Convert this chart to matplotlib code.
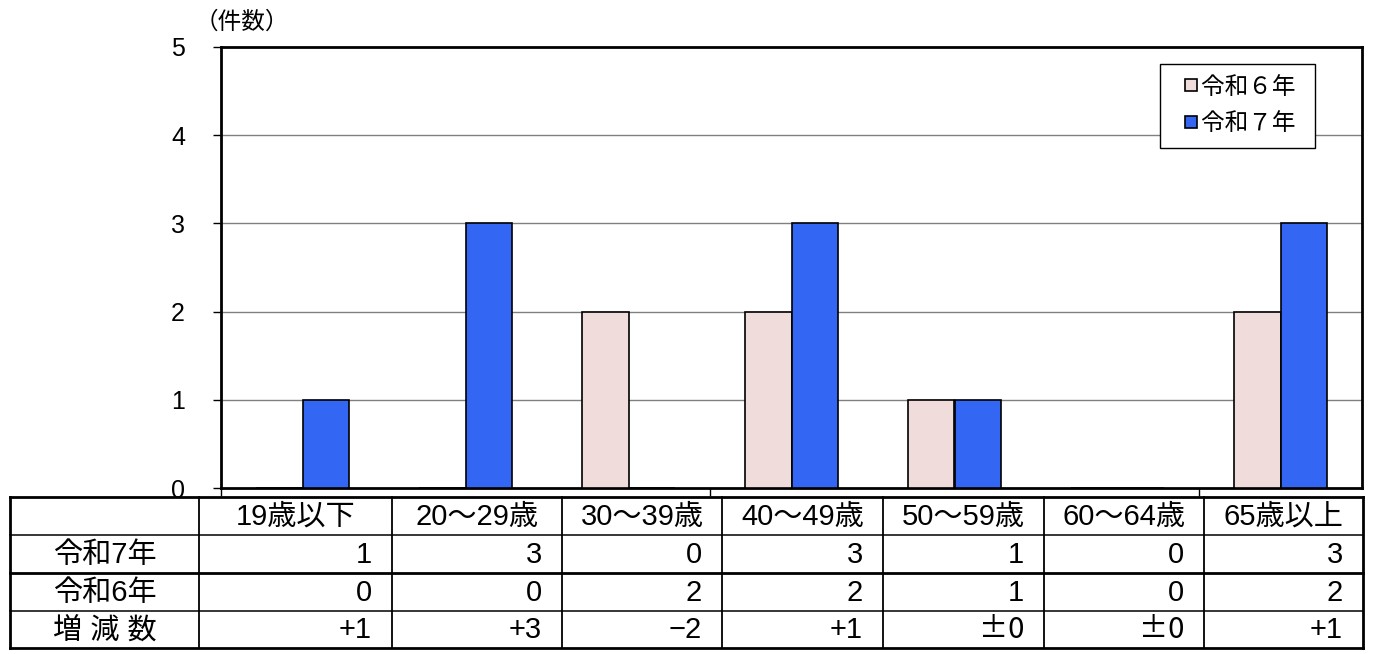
import numpy as np
import matplotlib
matplotlib.use("Agg")
import matplotlib.pyplot as plt
from matplotlib.lines import Line2D

plt.rcParams['font.family'] = ['Liberation Sans', 'Noto Sans CJK JP', 'DejaVu Sans']

# -----------------------------
# Data
# -----------------------------
age_groups = ["19歳以下", "20～29歳", "30～39歳", "40～49歳", "50～59歳", "60～64歳", "65歳以上"]
r7_counts = [1, 3, 0, 3, 1, 0, 3]
r6_counts = [0, 0, 2, 2, 1, 0, 2]
diff_labels = ["+1", "+3", "−2", "+1", "±0", "±0", "+1"]
row_labels = ["令和7年", "令和6年", "増 減 数"]
legend_labels = ["令和６年", "令和７年"]

W, H = 1373, 654
color_r6 = "#F0DCDA"
color_r7 = "#3366F2"
cjk = ['Noto Sans CJK JP', 'DejaVu Sans']

fig = plt.figure(figsize=(W / 100, H / 100), dpi=100)

# -----------------------------
# Bar chart
# -----------------------------
ax = fig.add_axes([221 / W, (H - 488) / H, (1362 - 221) / W, (488 - 47) / H])
x = np.arange(len(age_groups))
bw = 0.288
ax.bar(x - bw / 2, r6_counts, bw, color=color_r6, edgecolor="black", linewidth=1.2, zorder=3)
ax.bar(x + bw / 2, r7_counts, bw, color=color_r7, edgecolor="black", linewidth=1.2, zorder=3)

ax.set_xlim(-0.5, len(age_groups) - 0.5)
ax.set_ylim(0, 5)
ax.set_yticks(range(6))
ax.tick_params(axis="y", direction="out", length=6, width=1, pad=20, labelsize=18)
ax.set_xticks([-0.5, 2.5, 5.5])
ax.set_xticklabels([])
ax.tick_params(axis="x", direction="out", length=6, width=1)
for v in range(1, 5):
    ax.axhline(v, color="#808080", linewidth=1, zorder=1)
for s in ax.spines.values():
    s.set_linewidth(2)
    s.set_color("black")

ax.text(-0.023, 1.055, "（件数）", transform=ax.transAxes, fontsize=17, ha="left", va="center")

# legend with small square markers
handles = [Line2D([], [], linestyle="none", marker="s", markersize=8, markerfacecolor=c,
                  markeredgecolor="black", markeredgewidth=1.2)
           for c in (color_r6, color_r7)]
leg = ax.legend(handles, [l + " " for l in legend_labels], loc="upper left",
                bbox_to_anchor=(0.823, 0.962), borderaxespad=0, fontsize=17,
                handlelength=1.5, handletextpad=-0.3, labelspacing=0.62, borderpad=0.55,
                fancybox=False, framealpha=1, edgecolor="black")
leg.get_frame().set_linewidth(1)

# -----------------------------
# Data table below the chart
# -----------------------------
tax = fig.add_axes([0, 0, 1, 1])
tax.set_xlim(0, W)
tax.set_ylim(H, 0)
tax.axis("off")

col_edges = [10, 199, 392, 562, 722, 883, 1044, 1204, 1363]
row_edges = [497, 535, 573, 611, 648]
fs = 21

for i, xe in enumerate(col_edges):
    lw = 2 if i in (0, len(col_edges) - 1) else 1.3
    tax.add_line(Line2D([xe, xe], [row_edges[0], row_edges[-1]], color="black", linewidth=lw))
for j, ye in enumerate(row_edges):
    lw = 2 if j in (0, 2, len(row_edges) - 1) else 1.1
    tax.add_line(Line2D([col_edges[0], col_edges[-1]], [ye, ye], color="black", linewidth=lw))

for c, label in enumerate(age_groups):
    cx = (col_edges[c + 1] + col_edges[c + 2]) / 2
    cy = (row_edges[0] + row_edges[1]) / 2
    tax.text(cx, cy + 1, label, fontsize=fs, ha="center", va="center")

rows = [[str(v) for v in r7_counts], [str(v) for v in r6_counts], diff_labels]
for r, (name, vals) in enumerate(zip(row_labels, rows)):
    cy = (row_edges[r + 1] + row_edges[r + 2]) / 2
    tax.text((col_edges[0] + col_edges[1]) / 2, cy + 1, name, fontsize=fs, ha="center", va="center")
    for c, v in enumerate(vals):
        fam = cjk if v.startswith("±") else None
        tax.text(col_edges[c + 2] - 20, cy + 1, v, fontsize=fs, ha="right", va="center",
                 family=fam)

fig.savefig("out.png", dpi=100)
